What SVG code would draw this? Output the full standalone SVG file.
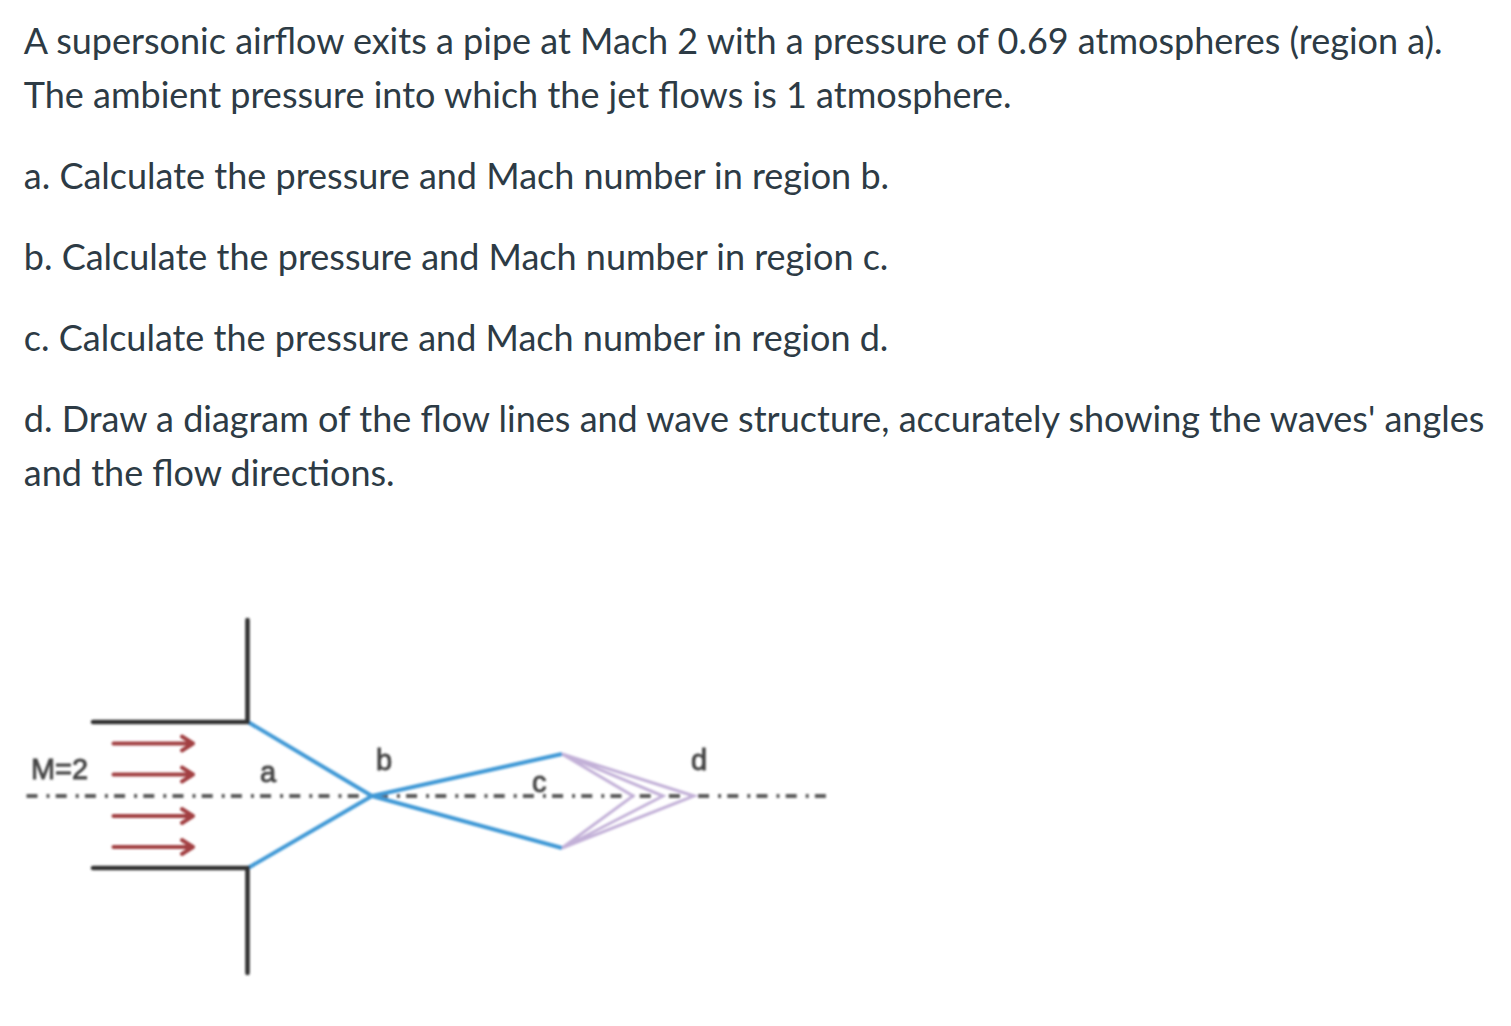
<svg xmlns="http://www.w3.org/2000/svg" width="1511" height="1026" viewBox="0 0 1511 1026">
<defs>
<filter id="soft" x="-5%" y="-5%" width="110%" height="110%"><feGaussianBlur stdDeviation="0.9"/></filter>
</defs>
<style>
.t{font-family:Lato,"Open Sans",sans-serif;font-size:36px;fill:#2d3b45}
.l{font-family:"Liberation Sans",Arial,sans-serif;font-size:29px;fill:#444;stroke:#444;stroke-width:0.9}
.wall{fill:none;stroke:#333;stroke-width:4.6;stroke-linecap:round}
.wave{fill:none;stroke:#4199d6;stroke-width:4}
.fan{fill:none;stroke:#c3b1d8;stroke-width:3}
.axis{fill:none;stroke:#5c5c5c;stroke-width:4;stroke-dasharray:11 9 3 6.200}
.flow{fill:none;stroke:#a23f42;stroke-width:4;stroke-linecap:round;stroke-linejoin:round}
</style>
<rect width="1511" height="1026" fill="#fff"/>
<g id="problem-text">
<text class="t" x="23.800" y="54">A supersonic airflow exits a pipe at Mach 2 with a pressure of 0.69 atmospheres (region a).</text>
<text class="t" x="23.800" y="108">The ambient pressure into which the jet flows is 1 atmosphere.</text>
<text class="t" x="23.800" y="189">a. Calculate the pressure and Mach number in region b.</text>
<text class="t" x="23.800" y="270">b. Calculate the pressure and Mach number in region c.</text>
<text class="t" x="23.800" y="351">c. Calculate the pressure and Mach number in region d.</text>
<text class="t" x="23.800" y="432">d. Draw a diagram of the flow lines and wave structure, accurately showing the waves' angles</text>
<text class="t" x="23.800" y="486">and the flow directions.</text>
</g>
<g id="figure" filter="url(#soft)">
<g id="connectors">
<path class="axis" d="M26.500 796H827"/>
<path class="fan" d="M562 754L633 796L562 848M562 754L663 796L562 848M562 754L694 796L562 848"/>
<path class="wave" d="M248 722L372 796L248 868M372 796L562 754M372 796L562 848"/>
<path class="wall" d="M247.500 620V722H93M93 868H247.500V973"/>
<path class="flow" d="M113.500 743.500H193M182 736.500L193 743.500L182 750.500M113.500 774.500H193M182 767.500L193 774.500L182 781.500M113.500 816H193M182 809L193 816L182 823M113.500 847H193M182 840L193 847L182 854"/>
</g>
<g id="label-m"><text class="l" x="31" y="779" textLength="57" lengthAdjust="spacingAndGlyphs">M=2</text></g>
<g id="label-a"><text class="l" x="260" y="782">a</text></g>
<g id="label-b"><text class="l" x="376" y="770">b</text></g>
<g id="label-c"><text class="l" x="532" y="792">c</text></g>
<g id="label-d"><text class="l" x="691" y="770">d</text></g>
</g>
</svg>
